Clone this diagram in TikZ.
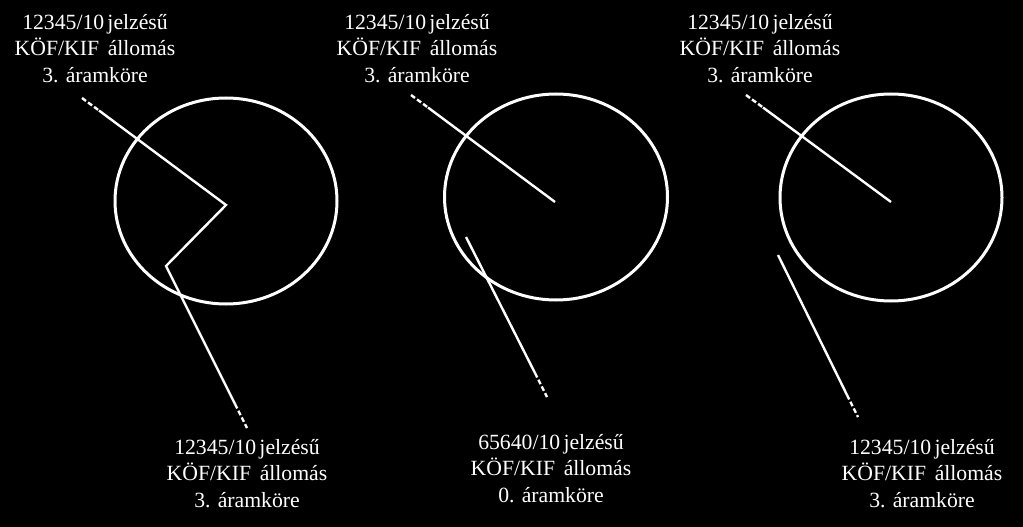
\documentclass[tikz,border=0pt]{standalone}
\usepackage{fontspec}
\setmainfont{Liberation Serif}
\begin{document}
\begin{tikzpicture}[x=1pt,y=-1pt,
  lbl/.style={text=white, align=center, font=\fontsize{21.7}{26.5}\selectfont, inner sep=0pt, anchor=base},
  ring/.style={draw=white, line width=3pt},
  wire/.style={draw=white, line width=2.4pt, line join=miter},
  wireend/.style={draw=white, line width=2.4pt, dash pattern=on 5pt off 2.5pt}]
\fill[black] (0,0) rectangle (1023,527);
\useasboundingbox (0,0) rectangle (1023,527);

% circles
\coordinate (cL) at (226,201);
\coordinate (cM) at (556,197);
\coordinate (cR) at (891,197.5);
\draw[ring] (cL) ellipse [x radius=111, y radius=103];
\draw[ring] (cM) ellipse [x radius=111.5, y radius=103];
\draw[ring] (cR) ellipse [x radius=111, y radius=103.5];

% left wires
\coordinate (l1) at (82,98);
\coordinate (l2) at (99,110.5);
\coordinate (l3) at (226,205);
\coordinate (l4) at (166,266);
\coordinate (l5) at (235,404);
\coordinate (l6) at (247,428);
\draw[wireend] (l1) -- (l2);
\draw[wire] (l2) -- (l3) -- (l4) -- (l5);
\draw[wireend] (l5) -- (l6);

% middle wires
\coordinate (m1) at (411,95);
\coordinate (m2) at (428,107.5);
\coordinate (m3) at (555,202);
\coordinate (m4) at (466,237);
\coordinate (m5) at (535,373);
\coordinate (m6) at (547,397);
\draw[wireend] (m1) -- (m2);
\draw[wire] (m2) -- (m3);
\draw[wire] (m4) -- (m5);
\draw[wireend] (m5) -- (m6);

% right wires
\coordinate (r1) at (746,95);
\coordinate (r2) at (763,107.5);
\coordinate (r3) at (891,202);
\coordinate (r4) at (778,255);
\coordinate (r5) at (847,395);
\coordinate (r6) at (858,417);
\draw[wireend] (r1) -- (r2);
\draw[wire] (r2) -- (r3);
\draw[wire] (r4) -- (r5);
\draw[wireend] (r5) -- (r6);

% labels (anchor = baseline of last line)
\node[lbl] (tL) at (95,82) {12345/10\hspace{0.15em}jelzésű\\KÖF/KIF\hspace{0.4em}állomás\\3. áramköre};
\node[lbl] (tM) at (417,82) {12345/10\hspace{0.15em}jelzésű\\KÖF/KIF\hspace{0.4em}állomás\\3. áramköre};
\node[lbl] (tR) at (760,82) {12345/10\hspace{0.15em}jelzésű\\KÖF/KIF\hspace{0.4em}állomás\\3. áramköre};
\node[lbl] (bL) at (247,507) {12345/10\hspace{0.15em}jelzésű\\KÖF/KIF\hspace{0.4em}állomás\\3. áramköre};
\node[lbl] (bM) at (551,502) {65640/10\hspace{0.15em}jelzésű\\KÖF/KIF\hspace{0.4em}állomás\\0. áramköre};
\node[lbl] (bR) at (922,507) {12345/10\hspace{0.15em}jelzésű\\KÖF/KIF\hspace{0.4em}állomás\\3. áramköre};
\end{tikzpicture}
\end{document}
